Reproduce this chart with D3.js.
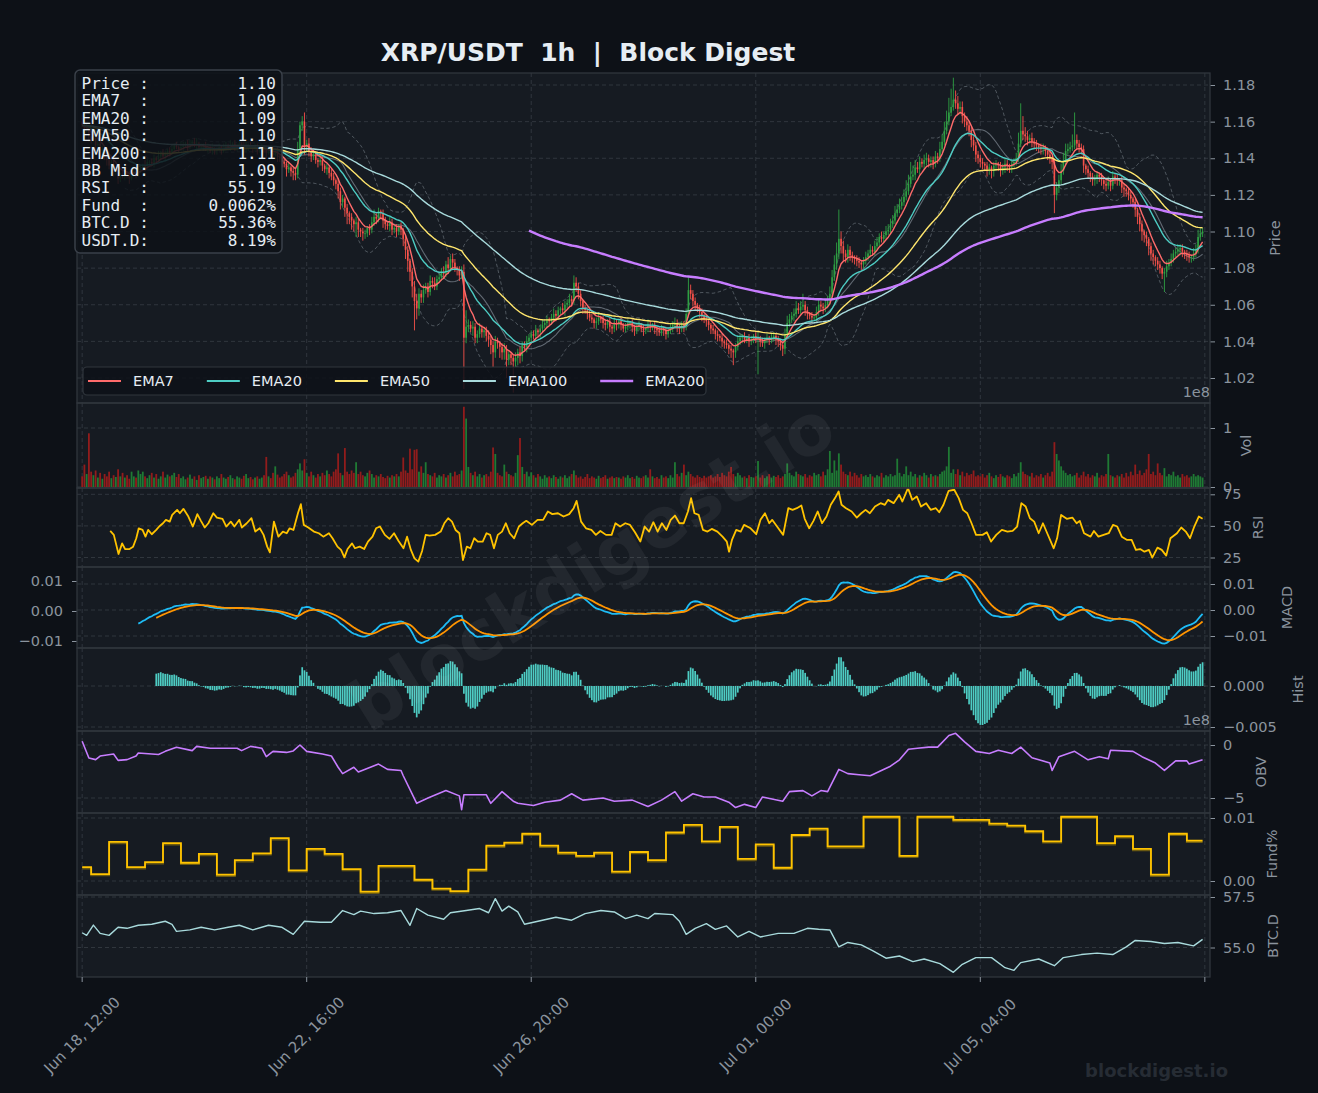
<!DOCTYPE html>
<html>
<head>
<meta charset="utf-8">
<script src="https://cdn.jsdelivr.net/npm/d3@7"></script>
<style>
  body { margin: 0; background: #0d1117; }
  svg { display: block; font-family: "DejaVu Sans", sans-serif; }
  svg text { white-space: pre; }
</style>
</head>
<body>
<svg id="chart" width="1318" height="1093"></svg>
<script>
// ---- data ----
const startTime = Date.UTC(2025, 5, 18, 12); // first hourly candle

// hourly closes
const closes = [
  1.158,1.155,1.156,1.152,1.150,1.151,1.147,1.148,1.144,1.145,1.141,1.139,1.136,1.137,1.133,1.134,1.129,1.131,1.130,1.132,
  1.131,1.129,1.132,1.133,1.131,1.134,1.134,1.136,1.135,1.138,1.138,1.137,1.140,1.139,1.141,1.143,1.141,1.142,1.144,1.143,
  1.145,1.147,1.146,1.145,1.146,1.147,1.148,1.146,1.148,1.149,1.147,1.148,1.146,1.146,1.147,1.145,1.146,1.144,1.145,1.144,
  1.145,1.146,1.144,1.146,1.147,1.146,1.147,1.148,1.146,1.147,1.148,1.147,1.145,1.146,1.147,1.146,1.145,1.146,1.144,1.145,
  1.146,1.145,1.143,1.144,1.143,1.142,1.144,1.141,1.140,1.138,1.137,1.134,1.135,1.133,1.132,1.131,1.145,1.158,1.160,1.146,
  1.148,1.144,1.141,1.142,1.139,1.138,1.139,1.136,1.134,1.135,1.132,1.130,1.128,1.126,1.122,1.116,1.118,1.113,1.110,1.108,
  1.106,1.104,1.105,1.101,1.100,1.099,1.099,1.102,1.101,1.105,1.108,1.107,1.111,1.110,1.106,1.104,1.103,1.105,1.101,1.102,
  1.100,1.103,1.101,1.096,1.090,1.084,1.078,1.070,1.062,1.058,1.066,1.064,1.068,1.070,1.067,1.073,1.072,1.070,1.074,1.075,
  1.078,1.077,1.082,1.080,1.085,1.083,1.080,1.079,1.076,1.078,1.042,1.048,1.049,1.047,1.048,1.042,1.044,1.047,1.045,1.046,
  1.043,1.041,1.038,1.034,1.040,1.039,1.037,1.034,1.036,1.030,1.033,1.031,1.029,1.031,1.034,1.032,1.038,1.037,1.040,1.042,
  1.044,1.043,1.046,1.045,1.047,1.049,1.050,1.052,1.051,1.053,1.055,1.054,1.057,1.058,1.057,1.060,1.061,1.063,1.062,1.072,
  1.070,1.066,1.062,1.058,1.057,1.055,1.053,1.052,1.050,1.051,1.053,1.052,1.050,1.049,1.051,1.048,1.047,1.050,1.049,1.051,
  1.049,1.047,1.048,1.050,1.050,1.048,1.046,1.048,1.049,1.047,1.046,1.047,1.049,1.048,1.049,1.047,1.046,1.045,1.047,1.046,
  1.044,1.046,1.048,1.049,1.050,1.048,1.047,1.049,1.048,1.055,1.068,1.066,1.062,1.060,1.058,1.056,1.054,1.052,1.051,1.049,
  1.047,1.046,1.044,1.043,1.042,1.040,1.039,1.038,1.036,1.035,1.034,1.037,1.040,1.042,1.043,1.041,1.042,1.040,1.041,1.043,
  1.041,1.042,1.040,1.039,1.041,1.042,1.041,1.042,1.043,1.041,1.040,1.038,1.036,1.044,1.050,1.052,1.054,1.055,1.058,1.057,
  1.059,1.060,1.057,1.055,1.054,1.053,1.053,1.056,1.060,1.059,1.058,1.060,1.062,1.066,1.075,1.082,1.088,1.096,1.092,1.088,
  1.086,1.090,1.087,1.086,1.085,1.084,1.083,1.082,1.084,1.086,1.088,1.090,1.089,1.092,1.094,1.097,1.096,1.098,1.100,1.101,
  1.104,1.106,1.110,1.112,1.114,1.116,1.119,1.122,1.126,1.130,1.131,1.135,1.134,1.138,1.137,1.139,1.140,1.138,1.139,1.137,
  1.141,1.140,1.145,1.149,1.155,1.160,1.165,1.168,1.172,1.170,1.167,1.168,1.163,1.160,1.158,1.155,1.150,1.147,1.142,1.140,
  1.138,1.137,1.136,1.134,1.135,1.133,1.136,1.137,1.136,1.134,1.135,1.137,1.136,1.135,1.137,1.138,1.140,1.148,1.155,1.153,
  1.152,1.150,1.151,1.149,1.148,1.147,1.146,1.145,1.146,1.144,1.142,1.140,1.138,1.120,1.124,1.128,1.133,1.138,1.144,1.145,
  1.146,1.147,1.150,1.148,1.146,1.145,1.136,1.134,1.132,1.130,1.128,1.129,1.131,1.130,1.128,1.126,1.125,1.127,1.125,1.130,
  1.129,1.128,1.128,1.124,1.123,1.122,1.120,1.118,1.116,1.112,1.108,1.104,1.100,1.098,1.096,1.092,1.088,1.086,1.084,1.082,
  1.080,1.077,1.078,1.081,1.083,1.085,1.088,1.089,1.090,1.091,1.089,1.088,1.087,1.086,1.086,1.088,1.090,1.097,1.099,1.100
];
const firstOpen = 1.160;

// wick lengths beyond the body, in 0.001
const wickUp = [
  2,1,3,1,2,1,2,3,1,2,1,2,1,2,3,1,2,1,2,1, 1,2,1,3,2,1,2,1,3,2,1,2,2,1,3,1,2,2,1,2,
  2,1,2,1,3,2,1,2,2,1,2,3,1,2,1,2,2,1,3,1, 1,2,1,2,2,1,3,1,2,1,2,1,2,3,1,2,1,2,2,1,
  2,1,2,1,2,3,1,2,1,2,2,1,3,1,2,2,4,2,3,5, 2,3,2,1,2,1,3,2,1,2,1,2,2,1,3,2,2,1,2,1,
  2,1,3,2,1,2,2,1,2,3,4,2,2,1,2,2,1,3,2,1, 2,1,2,1,2,2,1,2,3,4,3,2,3,2,2,3,2,3,2,2,
  2,3,2,4,2,3,2,1,2,3,4,9,3,2,3,2,2,3,2,2, 2,3,2,2,3,2,1,2,3,2,2,1,2,3,2,3,2,2,3,2,
  2,2,3,1,2,3,2,2,1,2,3,2,2,1,3,2,2,3,2,4, 3,2,2,1,2,1,2,2,1,2,3,1,2,2,1,2,1,3,2,1,
  2,1,2,2,1,2,1,2,2,1,2,1,3,2,1,2,1,2,2,1, 2,1,2,2,3,2,1,2,2,3,7,3,2,2,1,2,2,1,2,1,
  1,2,1,2,1,2,1,2,1,2,1,2,3,2,1,2,1,2,2,1, 2,3,1,2,1,2,1,2,2,1,2,1,2,3,4,3,2,3,4,3,
  3,6,2,2,1,2,2,3,3,2,2,3,3,4,4,5,6,16,4,3, 2,3,2,2,1,2,2,1,2,3,2,3,2,3,3,2,3,2,3,3,
  3,3,4,3,4,3,4,6,5,8,5,4,3,3,2,3,3,2,2,2, 3,2,4,4,5,6,8,10,12,5,4,3,3,2,3,2,2,2,2,2,
  2,2,1,2,2,1,2,2,1,2,2,3,2,1,2,2,3,6,15,8, 4,3,2,3,2,2,1,2,2,1,2,2,1,2,3,3,4,5,4,3,
  3,6,15,3,2,2,2,1,2,1,2,2,2,1,2,1,2,3,2,3, 2,2,1,2,2,1,2,2,1,2,1,2,2,1,2,1,2,2,1,2,
  2,1,2,3,2,3,2,2,3,2,2,1,2,2,1,3,3,4,3,2
];
const wickLo = [
  1,2,1,3,2,1,2,1,3,2,2,3,2,1,3,2,3,2,1,2, 2,3,1,2,2,1,2,1,2,1,2,1,2,2,1,2,1,2,1,2,
  1,2,1,2,1,2,1,2,1,2,1,2,2,1,2,1,2,1,2,2, 2,1,2,1,2,1,2,1,2,2,1,2,1,2,2,1,2,1,2,1,
  1,2,3,1,2,2,1,3,2,3,2,4,2,3,4,3,2,2,3,4, 2,3,3,2,2,3,2,3,2,3,3,2,3,3,4,4,3,5,6,4,
  5,4,7,4,3,4,3,2,3,2,2,3,2,3,4,3,2,3,3,2, 3,2,3,4,5,6,5,6,16,6,4,3,3,2,3,2,3,2,2,2,
  2,3,2,3,2,3,2,3,3,2,28,3,3,2,4,3,3,2,3,3, 3,4,5,8,3,3,6,4,4,10,3,4,17,3,4,4,3,2,3,2,
  3,2,2,2,3,2,2,3,2,2,2,3,2,2,2,3,2,2,3,2, 3,3,3,3,2,3,2,2,3,3,2,2,3,3,2,3,3,2,3,2,
  3,2,2,2,3,3,3,2,2,2,3,2,2,3,2,3,3,2,2,3, 3,2,2,3,2,3,3,2,3,2,2,3,3,3,2,3,3,2,3,3,
  3,2,3,3,2,3,3,2,3,4,7,3,2,2,3,2,2,3,2,2, 2,19,3,2,3,2,3,2,2,3,3,3,4,3,2,2,2,3,2,2,
  2,2,3,3,2,3,2,2,2,2,3,2,2,2,2,2,3,3,4,4, 3,3,3,3,3,3,3,3,2,2,2,2,2,2,2,2,2,2,2,2,
  2,2,2,2,2,2,2,2,2,2,2,3,2,3,2,3,3,3,3,3, 2,3,2,2,2,2,2,2,2,3,3,3,4,3,3,3,4,3,4,3,
  3,3,3,4,3,4,3,3,3,4,3,3,3,3,3,2,2,2,2,3, 3,3,2,3,3,3,3,3,3,3,3,3,4,10,3,3,2,2,2,2,
  2,2,2,3,3,3,4,3,3,3,3,3,3,3,3,3,3,2,3,2, 3,3,3,3,4,3,3,3,3,4,4,4,5,4,4,5,4,4,3,3,
  3,3,10,3,2,2,2,2,2,3,3,3,3,3,3,2,2,2,2,2
];

// hourly volume, millions
const volumeM = [
  18,38,22,91,26,20,28,16,24,14,22,18,26,15,20,17,30,18,24,16,
  20,14,26,18,16,28,22,26,18,15,20,24,16,22,14,18,26,16,21,18,
  20,24,17,22,15,18,13,16,21,14,18,12,20,15,17,19,14,18,16,13,
  18,15,22,16,14,17,20,15,13,18,16,14,19,22,15,17,13,16,18,14,
  16,20,51,18,15,24,35,21,16,18,22,26,20,16,18,24,30,40,28,47,
  24,18,26,20,16,22,18,24,20,28,22,18,26,30,57,24,20,66,26,22,
  28,24,42,22,26,20,18,24,28,22,16,20,18,22,17,15,19,16,20,18,
  22,18,26,50,28,24,65,30,63,64,26,35,24,42,22,20,18,24,16,20,
  18,22,16,20,24,18,26,20,22,28,136,116,34,24,20,26,18,22,16,20,
  22,18,26,67,56,24,20,18,38,26,22,20,18,24,54,83,34,22,26,18,
  25,20,16,22,18,14,20,16,18,15,20,17,14,18,16,20,15,18,22,28,
  20,16,18,14,17,22,15,18,16,14,19,15,17,20,14,16,18,15,17,16,
  14,18,16,20,15,17,14,19,16,15,18,20,16,30,18,15,17,14,20,16,
  18,15,20,16,42,22,18,24,38,20,26,22,18,16,20,17,15,19,16,18,
  20,16,18,22,17,24,20,18,26,34,22,18,24,20,16,18,15,20,17,16,
  18,44,16,20,15,18,22,16,19,17,20,15,18,22,40,24,20,18,26,22,
  20,18,22,16,20,18,24,20,22,18,26,20,30,61,24,45,28,57,38,26,
  22,20,26,18,24,20,16,22,18,20,17,22,18,16,20,18,24,16,20,18,
  22,18,20,48,24,18,22,35,20,26,18,22,16,20,18,24,20,16,22,18,
  20,18,22,26,28,35,68,24,30,22,30,20,26,18,24,20,22,28,18,20,
  18,22,16,20,24,18,15,20,17,22,18,16,20,18,15,22,18,24,42,26,
  22,20,18,24,16,20,18,22,16,20,24,18,26,76,56,45,35,28,24,20,
  22,18,20,24,16,20,26,18,22,16,20,18,24,16,20,18,22,56,20,18,
  16,20,18,22,16,24,18,26,20,38,22,28,20,24,30,56,22,26,20,40,
  24,20,32,18,22,20,26,18,20,16,22,18,20,16,18,22,18,20,18,16
];

// RSI at hour index
const rsiHour = [12.5,14.1,16.2,17.8,19.1,21.1,22.7,24.1,25.2,26.9,28.2,29.4,31,33,34.3,36,37.3,39,40.1,42.3,
  43.5,45.1,47.3,49.3,51.3,52.9,54.6,56.2,58.4,60,62.5,64.2,66.2,67.8,70,71.1,73.3,75.4,77.1,79.1,
  80.8,82.4,83.6,85.4,87.4,89.4,91.1,92.4,94.1,96.1,97.4,98.7,100.7,103.2,105.4,107.4,109.9,111.5,113.7,115.3,
  116.8,118.2,120.2,121.5,123.6,125.6,127.3,129.3,130.9,132.6,134.8,136.9,138.9,140.9,143.1,144.7,146.4,148,149.7,151.4,
  153,154.7,157.2,159.7,161.3,163,164.7,166.3,168,169.6,171.3,172.9,174.6,176.2,178.4,180.1,181.7,183.4,185.1,187,
  188.7,190.4,192.4,194.5,196.2,197.8,200.3,202.8,205.3,207.4,209.4,211.9,214.4,216.9,218.9,220.2,222.2,224.4,226.8,228.8,
  230.8,233.3,235.8,237.5,239.6,241.9,244,246.2,248.6,250.5,252.5,254.4,256.3,258.2,260.2,262.1,264,266,267.9,269.8,
  271.2,272.7,274.6,276.5,278.5,280.4,282.9,285.2,287.1,288.1,289.4,291.3,293.3,294.8,297.7,300.2,302.1,304.1,306,307.3,
  309.8,312.2,314.5,316.4,318.3,320.3,321.8,323.8,325.7,327.6,329.5,331.5,333.4,335.3,336.9,338.2,340.2,342.7,345,347,
  348.9,350.8,353.1,355.6,357.5,358.9,361.4,363.9,365.3,367.8,369.7,371.7,373.6,375.9,377.9,380.2,381.7,383.6,385.9,388.4,
  390.4,392.3,394.2,396.1,398.1,401,402.9,404.8,407.1,409.6,412.1,414.4,416.4,418.3,420.2,422.1,424,426,427.9,429.8,
  432.7,434.2,436,438.5,441,442.9,444.3,446.2,449.1,450.6,452.6,454.9,457.2,459.1,461,463,465.4,467.4,469.3,471.2,
  473.1,475.1,476.6,478.9,480.8,482.8,484.7,487.6,489.5,491.5,493.4,495.3,497.3,499];
const rsiValue = [46,42.9,27.8,36.2,31.7,31.7,33.6,40.2,48.1,46.8,41.5,46.8,43.4,46.8,49.5,52.1,54.8,53.4,58.7,62.7,
  60,63.5,57.4,49.5,59.3,54,48.7,52.1,60,56.6,55.6,49.5,53.4,49.5,54.8,48.7,52.1,56.1,45.5,48.1,
  42.9,33.6,29.1,53.4,41.5,45.5,44.2,48.1,46.8,60,67.2,50.8,48.7,45.5,44.2,41.5,44.2,40.2,33.6,31,
  25.1,31.7,36.2,32.3,33.6,31.7,37.6,41.5,48.1,49.5,42.9,39.7,44.2,38.1,32.3,41.5,31,24.3,21.7,30.2,
  42.9,42.3,42.9,45.5,52.1,56.1,53.4,46.8,44.2,23,33.6,32.3,40.2,37.6,37.6,44.2,42.9,32.3,42.9,45.5,
  52.1,44.2,40.2,49.5,52.1,54,50.8,54.8,54.8,61.4,59.3,60,57.4,59.3,64,69.8,53.4,48.1,46.8,42.9,
  46,42.9,42.9,52.1,49.5,52.1,50.8,45,37.6,49.5,45.5,52.9,45.5,52.1,46.8,54.8,58.2,52.1,52.1,61.4,
  72,60,58.7,46.8,45.5,47.6,45.5,41.5,37.6,29.6,38.9,46.8,45.5,50.8,48.1,43.4,54.8,60,52.1,54.8,
  48.7,42.9,64,62.7,64,66.1,55.6,48.1,54,61.4,52.1,57.4,66.7,72,77.2,66.7,64,61.4,56.6,60,
  62.7,60,65.3,68,66.7,70.6,68,74.6,69.3,79.9,70.6,73.3,65.3,68,62.7,64,60.8,66.7,77.8,78.6,
  72,62.7,60,52.1,42.9,42.9,45,37.6,42.9,46.8,45.5,46,49.5,68,65.3,56.1,53.4,44.2,52.1,44.2,
  32.3,40.2,58.7,55.6,56.6,52.1,54,44.2,41.5,46,41.5,42.9,44.2,50.8,49.5,41.5,38.9,38.9,31,31.7,
  29.6,31,24.9,32.8,31,26.5,40.2,44.2,48.7,45.5,40.2,49.5,57.4,55.6];

// OBV (x1e8) at hour index
const obvHour = [0,3,6,8,14,16,20,24,25,34,37,42,49,51,57,69,71,75,80,82,85,91,94,97,100,107,111,114,116,121,
  123,132,136,142,143,149,154,162,168,169,170,180,182,187,192,194,201,206,213,218,223,232,237,245,252,258,264,267,272,277,
  282,288,291,295,300,303,312,315,321,325,329,332,337,341,346,351,355,360,364,368,372,377,381,386,389,393,398,404,408,414,
  418,423,428,431,432,435,442,448,453,457,458,468,472,478,482,487,492,493,499];
const obvValue = [0.35,-1.23,-1.38,-1.04,-0.85,-1.45,-1.38,-1.04,-0.75,-0.9,-0.6,-0.22,-0.53,-0.13,-0.3,-0.3,-0.53,-0.13,-0.3,-1.1,
  -0.6,-0.7,-0.56,0.0,-0.6,-0.85,-1.04,-2.1,-2.7,-2.1,-2.55,-1.8,-2.3,-2.4,-2.9,-5.5,-5.0,-4.3,-4.8,-6.1,
  -4.7,-4.7,-5.5,-4.4,-5.3,-5.5,-5.7,-5.4,-5.2,-4.6,-5.2,-5.0,-5.3,-5.2,-5.8,-5.2,-4.4,-5.3,-4.6,-4.9,
  -4.9,-5.4,-5.9,-5.6,-5.9,-4.9,-5.3,-4.4,-4.3,-4.8,-4.3,-4.4,-2.3,-2.7,-2.8,-2.9,-2.5,-2.0,-1.4,-0.4,
  -0.3,-0.2,-0.2,0.9,1.1,0.3,-0.6,-0.8,-0.5,-0.8,-0.2,-1.2,-1.5,-1.7,-2.4,-1.1,-0.6,-1.4,-1.1,-1.3,
  -0.5,-0.6,-1.1,-1.7,-2.4,-1.5,-1.5,-1.8,-1.4];

// BTC dominance (%) at hour index
const btcHour = [0,2,5,8,12,16,20,25,31,37,40,42,48,53,59,65,70,76,83,89,94,99,106,111,116,121,124,130,136,142,
  146,149,154,161,164,171,177,181,184,187,190,194,197,203,211,218,224,231,237,242,247,252,255,263,266,269,273,278,282,287,
  292,297,302,310,317,323,328,333,337,341,347,352,358,364,370,375,382,388,392,398,405,411,415,418,426,433,437,445,452,459,
  465,469,476,482,488,495,499];
const btcValue = [55.73,55.6,56.11,55.7,55.6,56.0,55.95,56.1,56.15,56.3,56.15,55.8,55.87,56.0,55.87,56.0,56.1,55.87,56.1,56.0,
  55.65,56.3,56.25,56.25,56.83,56.63,56.8,56.68,56.72,56.83,56.1,56.93,56.6,56.4,56.72,56.83,56.93,56.72,57.42,56.8,
  57.05,56.76,56.15,56.3,56.5,56.35,56.68,56.83,56.76,56.43,56.6,56.43,56.68,56.63,56.3,55.65,55.95,56.18,55.9,56.07,
  55.52,55.8,55.52,55.7,55.7,55.95,55.9,55.87,55.03,55.25,55.13,54.85,54.47,54.58,54.3,54.43,54.2,53.77,54.17,54.5,
  54.5,54.0,53.87,54.25,54.43,54.1,54.5,54.65,54.72,54.65,55.03,55.35,55.3,55.2,55.25,55.08,55.4];

// funding rate (%) per 8h period; first period covers hours 0-3
const fundValue = [0.0022,0.0011,0.0062,0.0022,0.0030,0.0060,0.0029,0.0043,0.0010,0.0033,
  0.0044,0.0068,0.0017,0.0051,0.0043,0.0019,-0.0017,0.0024,0.0024,0.0002,
  -0.0012,-0.0016,0.0018,0.0056,0.0061,0.0075,0.0056,0.0045,0.0040,0.0045,
  0.0015,0.0046,0.0033,0.0077,0.0089,0.0063,0.0086,0.0035,0.0058,0.0021,
  0.0073,0.0083,0.0055,0.0055,0.0102,0.0102,0.0040,0.0102,0.0102,0.0097,
  0.0097,0.0091,0.0088,0.0079,0.0063,0.0102,0.0102,0.0060,0.0071,0.0051,
  0.0010,0.0075,0.0064];

const infoLabels = ["Price :", "EMA7  :", "EMA20 :", "EMA50 :", "EMA200:", "BB Mid:", "RSI   :", "Fund  :", "BTC.D :", "USDT.D:"];
const infoValues = ["1.10", "1.09", "1.09", "1.10", "1.11", "1.09", "55.19", "0.0062%", "55.36%", "8.19%"];

const emaSpans = [7, 20, 50, 100, 200];
const emaNames = ["EMA7", "EMA20", "EMA50", "EMA100", "EMA200"];
const emaColors = ["#ff6b6b", "#4ecdc4", "#ffe66d", "#a8dadc", "#c77dff"];

// ---- indicators ----
// recursive EMA seeded with the first value; null until minPeriods values seen
function ema(values, span, minPeriods = 1) {
  const a = 2 / (span + 1);
  let prev = null, n = 0;
  return values.map(v => {
    if (v == null) return null;
    prev = prev == null ? v : a * v + (1 - a) * prev;
    n++;
    return n >= minPeriods ? prev : null;
  });
}

const N = closes.length;
const opens = closes.map((c, i) => (i ? closes[i - 1] : firstOpen));
const candles = closes.map((c, i) => {
  const o = opens[i];
  return {
    i, o, c,
    h: Math.max(o, c) + wickUp[i] / 1000,
    l: Math.min(o, c) - wickLo[i] / 1000,
    up: c >= o,
    v: volumeM[i] / 100
  };
});

const emaLines = emaSpans.map(s => ema(closes, s, s === 200 ? 200 : 1));

const bbMid = [], bbUp = [], bbLo = [];
closes.forEach((c, i) => {
  if (i < 19) { bbMid.push(null); bbUp.push(null); bbLo.push(null); return; }
  const w = closes.slice(i - 19, i + 1);
  const m = d3.mean(w), s = d3.deviation(w);
  bbMid.push(m); bbUp.push(m + 2 * s); bbLo.push(m - 2 * s);
});

const ema12 = ema(closes, 12, 12), ema26 = ema(closes, 26, 26);
const macd = closes.map((c, i) => (ema26[i] == null ? null : ema12[i] - ema26[i]));
const signal = ema(macd, 9, 9);
const hist = macd.map((m, i) => (signal[i] == null ? null : m - signal[i]));

// ---- layout ----
const svg = d3.select("#chart");
const left = 77, right = 1210;
const x = d3.scaleLinear().domain([-2.3, 502.3]).range([left, right]);
const hourTicks = [0, 100, 200, 300, 400, 500];
const fmtDate = d3.utcFormat("%b %d, %H:%M");

const panels = [
  { key: "price", top: 73, bottom: 403, label: "Price", lx: 1275,
    y: d3.scaleLinear().domain([1.02, 1.18]).range([378, 85]),
    ticks: d3.range(1.02, 1.181, 0.02), fmt: d3.format(".2f") },
  { key: "vol", top: 403, bottom: 488, label: "Vol", lx: 1246,
    y: d3.scaleLinear().domain([0, 1]).range([487, 428]), ticks: [0, 1], fmt: d3.format("d") },
  { key: "rsi", top: 488, bottom: 567, label: "RSI", lx: 1258,
    y: d3.scaleLinear().domain([25, 75]).range([557.5, 494.3]), ticks: [25, 50, 75], fmt: d3.format("d") },
  { key: "macd", top: 567, bottom: 648, label: "MACD", lx: 1287,
    y: d3.scaleLinear().domain([-0.01, 0.01]).range([636, 584]), ticks: [-0.01, 0, 0.01], fmt: d3.format(".2f") },
  { key: "hist", top: 648, bottom: 731, label: "Hist", lx: 1298,
    y: d3.scaleLinear().domain([-0.005, 0]).range([727, 686]), ticks: [-0.005, 0], fmt: d3.format(".3f") },
  { key: "obv", top: 731, bottom: 813, label: "OBV", lx: 1261,
    y: d3.scaleLinear().domain([-5, 0]).range([798, 745]), ticks: [-5, 0], fmt: d3.format("d") },
  { key: "fund", top: 813, bottom: 895, label: "Fund%", lx: 1272,
    y: d3.scaleLinear().domain([0, 0.01]).range([881, 818]), ticks: [0, 0.01], fmt: d3.format(".2f") },
  { key: "btc", top: 895, bottom: 977, label: "BTC.D", lx: 1273,
    y: d3.scaleLinear().domain([55, 57.5]).range([947.5, 897]), ticks: [55, 57.5], fmt: d3.format(".1f") }
];
const P = Object.fromEntries(panels.map(p => [p.key, p]));

const defs = svg.append("defs");
panels.forEach(p => {
  defs.append("clipPath").attr("id", "clip-" + p.key)
    .append("rect").attr("x", left).attr("y", p.top)
    .attr("width", right - left).attr("height", p.bottom - p.top);
});

// title
svg.append("text")
  .attr("x", 588).attr("y", 61)
  .attr("text-anchor", "middle")
  .attr("font-size", 25).attr("font-weight", "bold")
  .attr("fill", "#e6edf3")
  .text("XRP/USDT  1h  |  Block Digest");

// panel backgrounds, grids, axes
panels.forEach(p => {
  const g = svg.append("g").attr("class", "panel-" + p.key);
  g.append("rect")
    .attr("x", left).attr("y", p.top)
    .attr("width", right - left).attr("height", p.bottom - p.top)
    .attr("fill", "#161b22");
  const grid = g.append("g").attr("stroke", "#8b949e").attr("stroke-opacity", 0.28)
    .attr("stroke-width", 0.8).attr("stroke-dasharray", "4,3");
  grid.selectAll(".hg").data(p.ticks).join("line")
    .attr("x1", left).attr("x2", right)
    .attr("y1", d => p.y(d)).attr("y2", d => p.y(d));
  grid.selectAll(".vg").data(hourTicks).join("line")
    .attr("x1", d => x(d)).attr("x2", d => x(d))
    .attr("y1", p.top).attr("y2", p.bottom);

  const ax = svg.append("g")
    .attr("transform", `translate(${right},0)`)
    .call(d3.axisRight(p.y).tickValues(p.ticks).tickFormat(p.fmt).tickSize(5).tickPadding(8));
  ax.select(".domain").remove();
  ax.selectAll("line").attr("stroke", "#8b949e");
  ax.selectAll("text").attr("fill", "#8b949e").attr("font-size", 14.5)
    .attr("font-family", "DejaVu Sans");

  svg.append("text")
    .attr("transform", `translate(${p.lx},${(p.top + p.bottom) / 2}) rotate(-90)`)
    .attr("text-anchor", "middle").attr("dominant-baseline", "central")
    .attr("font-size", 14.5).attr("fill", "#8b949e")
    .text(p.label);
});

// MACD left axis
const macdLeft = d3.scaleLinear().domain([-0.01, 0.01]).range([641, 581]);
const axL = svg.append("g").attr("transform", `translate(${left},0)`)
  .call(d3.axisLeft(macdLeft).tickValues([-0.01, 0, 0.01]).tickFormat(d3.format(".2f")).tickSize(5).tickPadding(9));
axL.select(".domain").remove();
axL.selectAll("line").attr("stroke", "#8b949e");
axL.selectAll("text").attr("fill", "#8b949e").attr("font-size", 14.5).attr("font-family", "DejaVu Sans");

// offset labels
[392, 720].forEach(yy => {
  svg.append("text").attr("x", right).attr("y", yy + 5)
    .attr("text-anchor", "end").attr("font-size", 14.5).attr("fill", "#8b949e").text("1e8");
});

const lineOf = (yScale) => d3.line().defined(d => d[1] != null)
  .x(d => x(d[0])).y(d => yScale(d[1]));
const pairs = arr => arr.map((v, i) => [i, v]);

// ---- price panel ----
const pr = P.price;
const gp = svg.append("g").attr("clip-path", "url(#clip-price)");
[bbUp, bbLo].forEach(b => {
  gp.append("path").attr("d", lineOf(pr.y)(pairs(b)))
    .attr("fill", "none").attr("stroke", "#8b949e").attr("stroke-opacity", 0.55)
    .attr("stroke-width", 0.9).attr("stroke-dasharray", "3.5,2.5");
});
gp.append("path").attr("d", lineOf(pr.y)(pairs(bbMid)))
  .attr("fill", "none").attr("stroke", "#8b949e").attr("stroke-opacity", 0.65).attr("stroke-width", 1.1);

const cg = gp.append("g");
cg.selectAll("line").data(candles).join("line")
  .attr("x1", d => x(d.i)).attr("x2", d => x(d.i))
  .attr("y1", d => pr.y(d.h)).attr("y2", d => pr.y(d.l))
  .attr("stroke", d => (d.up ? "#2ea043" : "#f85149")).attr("stroke-width", 0.9);
cg.selectAll("rect").data(candles).join("rect")
  .attr("x", d => x(d.i) - 0.8).attr("width", 1.6)
  .attr("y", d => pr.y(Math.max(d.o, d.c)))
  .attr("height", d => Math.max(0.8, Math.abs(pr.y(d.o) - pr.y(d.c))))
  .attr("fill", d => (d.up ? "#2ea043" : "#f85149"));

emaLines.forEach((e, k) => {
  gp.append("path").attr("d", lineOf(pr.y)(pairs(e)))
    .attr("fill", "none").attr("stroke", emaColors[k])
    .attr("stroke-width", k === 4 ? 2.4 : 1.4).attr("stroke-linejoin", "round");
});

// ---- volume ----
const vo = P.vol;
svg.append("g").attr("clip-path", "url(#clip-vol)")
  .selectAll("rect").data(candles).join("rect")
  .attr("x", d => x(d.i) - 0.9).attr("width", 1.8)
  .attr("y", d => vo.y(d.v)).attr("height", d => vo.y(0) - vo.y(d.v))
  .attr("fill", d => (d.up ? "#1f7a34" : "#921c1c"));

// ---- RSI ----
svg.append("path").attr("clip-path", "url(#clip-rsi)")
  .attr("d", lineOf(P.rsi.y)(rsiHour.map((h, k) => [h, rsiValue[k]])))
  .attr("fill", "none").attr("stroke", "#ffc300").attr("stroke-width", 1.8).attr("stroke-linejoin", "round");

// ---- MACD ----
svg.append("path").attr("clip-path", "url(#clip-macd)")
  .attr("d", lineOf(P.macd.y)(pairs(macd)))
  .attr("fill", "none").attr("stroke", "#1ebcf5").attr("stroke-width", 1.8);
svg.append("path").attr("clip-path", "url(#clip-macd)")
  .attr("d", lineOf(P.macd.y)(pairs(signal)))
  .attr("fill", "none").attr("stroke", "#ff9500").attr("stroke-width", 1.8);

// ---- Hist ----
const hs = P.hist;
svg.append("g").attr("clip-path", "url(#clip-hist)")
  .selectAll("rect").data(pairs(hist).filter(d => d[1] != null)).join("rect")
  .attr("x", d => x(d[0]) - 0.85).attr("width", 1.7)
  .attr("y", d => Math.min(hs.y(d[1]), hs.y(0)))
  .attr("height", d => Math.abs(hs.y(d[1]) - hs.y(0)))
  .attr("fill", "#4ecdc4");

// ---- OBV ----
svg.append("path").attr("clip-path", "url(#clip-obv)")
  .attr("d", lineOf(P.obv.y)(obvHour.map((h, k) => [h, obvValue[k]])))
  .attr("fill", "none").attr("stroke", "#c77dff").attr("stroke-width", 1.6).attr("stroke-linejoin", "round");

// ---- Funding ----
const fundPts = fundValue.map((v, p) => [p === 0 ? 0 : 4 + 8 * (p - 1), v]);
fundPts.push([N - 1, fundValue[fundValue.length - 1]]);
const fundLine = d3.line().x(d => x(d[0])).y(d => P.fund.y(d[1])).curve(d3.curveStepAfter);
const gf = svg.append("g").attr("clip-path", "url(#clip-fund)");
gf.append("path").attr("d", fundLine(fundPts)).attr("transform", "translate(0,1.3)")
  .attr("fill", "none").attr("stroke", "#6b5a12").attr("stroke-width", 2);
gf.append("path").attr("d", fundLine(fundPts))
  .attr("fill", "none").attr("stroke", "#ffc300").attr("stroke-width", 1.8);

// ---- BTC.D ----
svg.append("path").attr("clip-path", "url(#clip-btc)")
  .attr("d", lineOf(P.btc.y)(btcHour.map((h, k) => [h, btcValue[k]])))
  .attr("fill", "none").attr("stroke", "#a8dadc").attr("stroke-width", 1.4).attr("stroke-linejoin", "round");

// panel borders
panels.forEach(p => {
  svg.append("rect")
    .attr("x", left).attr("y", p.top)
    .attr("width", right - left).attr("height", p.bottom - p.top)
    .attr("fill", "none").attr("stroke", "#30363d").attr("stroke-width", 1.3);
});

// x axis
const xa = svg.append("g");
xa.selectAll("line").data(hourTicks).join("line")
  .attr("x1", d => x(d)).attr("x2", d => x(d))
  .attr("y1", 977).attr("y2", 982)
  .attr("stroke", "#8b949e");
xa.selectAll("text").data(hourTicks.slice(0, 5)).join("text")
  .attr("transform", d => `translate(${x(d)},1035) rotate(-45)`)
  .attr("text-anchor", "middle").attr("dominant-baseline", "central")
  .attr("font-size", 15).attr("fill", "#8b949e")
  .text(d => fmtDate(new Date(startTime + d * 3600e3)));

// legend
const lg = svg.append("g");
lg.append("rect").attr("x", 83).attr("y", 367).attr("width", 623).attr("height", 28)
  .attr("rx", 4).attr("fill", "#0d1117").attr("fill-opacity", 0.85)
  .attr("stroke", "#30363d").attr("stroke-width", 1.2);
let lx = 88;
emaNames.forEach((name, k) => {
  lg.append("line").attr("x1", lx).attr("x2", lx + 33).attr("y1", 381).attr("y2", 381)
    .attr("stroke", emaColors[k]).attr("stroke-width", k === 4 ? 2.6 : 2);
  const t = lg.append("text").attr("x", lx + 45).attr("y", 381)
    .attr("dominant-baseline", "central").attr("font-size", 14.5).attr("fill", "#e6edf3").text(name);
  lx += 45 + t.node().getComputedTextLength() + 33;
});

// info box
const ib = svg.append("g");
ib.append("rect").attr("x", 75).attr("y", 70).attr("width", 207).attr("height", 183)
  .attr("rx", 5).attr("fill", "#0d1117").attr("fill-opacity", 0.86)
  .attr("stroke", "#3a4049").attr("stroke-width", 1.5);
infoLabels.forEach((lab, k) => {
  const yy = 89 + k * 17.4;
  ib.append("text").attr("x", 81.5).attr("y", yy)
    .attr("font-family", "DejaVu Sans Mono").attr("font-size", 16).attr("fill", "#e6edf3").text(lab);
  ib.append("text").attr("x", 276).attr("y", yy).attr("text-anchor", "end")
    .attr("font-family", "DejaVu Sans Mono").attr("font-size", 16).attr("fill", "#e6edf3").text(infoValues[k]);
});

// watermarks
svg.append("text")
  .attr("transform", "translate(592,566) rotate(-32)")
  .attr("text-anchor", "middle").attr("dominant-baseline", "central")
  .attr("font-size", 70).attr("font-weight", "bold")
  .attr("fill", "#ffffff").attr("fill-opacity", 0.055)
  .text("blockdigest.io");
svg.append("text")
  .attr("x", 1228).attr("y", 1077).attr("text-anchor", "end")
  .attr("font-size", 18).attr("font-weight", "bold")
  .attr("fill", "#262c34")
  .text("blockdigest.io");
</script>
</body>
</html>
